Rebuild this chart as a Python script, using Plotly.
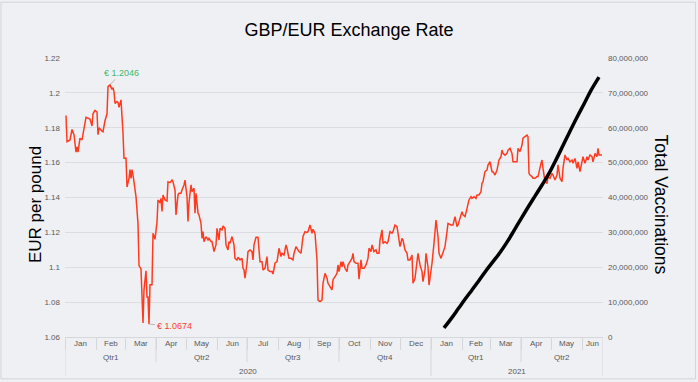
import pandas as pd
import plotly.graph_objects as go

START = "2020-01-01"
END = "2021-06-22"

# GBP/EUR daily rate (days counted from 2020-01-01)
fx_day = [
    1, 2, 5, 7, 9, 11, 12, 13, 15, 17, 21, 23, 25, 27, 28, 30,
    32, 33, 34, 37, 38, 40, 42, 43, 45, 47, 48, 49, 50, 52, 53, 54, 56, 58, 59,
    61, 62, 64, 65, 66, 67, 68, 70, 71, 73, 74, 76, 77, 78, 79, 81, 82, 83, 84, 85, 87, 88, 90,
    92, 93, 95, 96, 97, 98, 100, 102, 103, 105, 107, 108, 110, 111, 113, 114, 116, 117, 119, 120,
    122, 123, 124, 126, 127, 129, 130, 131, 133, 134, 136, 137, 138, 139, 141, 143, 144, 146, 147, 149, 151,
    152, 154, 155, 157, 158, 160, 161, 163, 164, 165, 167, 169, 170, 172, 173, 175, 177, 178, 179, 180,
    182, 183, 185, 187, 188, 189, 191, 193, 195, 197, 198, 200, 202, 203, 205, 207, 208, 210, 212,
    213, 214, 216, 217, 219, 221, 222, 224, 226, 228, 229, 231, 233, 234, 236, 237, 238, 240, 242, 243,
    245, 247, 248, 250, 252, 253, 255, 257, 258, 260, 262, 263, 265, 267, 268, 270, 272, 273,
    274, 276, 277, 278, 280, 282, 283, 285, 287, 288, 289, 291, 293, 294, 296, 297, 299, 301, 303, 304,
    306, 307, 309, 311, 312, 314, 315, 317, 318, 320, 322, 323, 325, 327, 328, 330, 332, 333,
    335, 337, 338, 340, 342, 343, 345, 347, 348, 350, 352, 353, 355, 357, 358, 360, 361, 363, 364,
    366, 367, 369, 370, 371, 373, 374, 376, 378, 380, 382, 383, 386, 388, 390, 392, 393, 395,
    397, 398, 400, 402, 404, 406, 407, 409, 411, 412, 414, 416, 417, 418, 420, 422, 423,
    425, 427, 428, 430, 432, 433, 434, 436, 437, 438, 440, 442, 443, 445, 447, 448, 450, 452, 453, 455,
    457, 458, 460, 462, 463, 464, 465, 467, 468, 470, 472, 473, 476, 477, 478, 480, 482, 483, 485,
    487, 488, 490, 492, 493, 495, 497, 498, 500, 502, 503, 505, 507, 508, 510, 512, 513, 515,
    517, 518, 520, 522, 523, 525, 527, 528, 530, 532, 533, 534, 537,
]
fx_rate = [
    1.187, 1.172, 1.173, 1.179, 1.176, 1.166, 1.169, 1.166, 1.174, 1.173, 1.186, 1.1855, 1.185, 1.181, 1.188, 1.190,
    1.189, 1.176, 1.180, 1.178, 1.1777, 1.184, 1.188, 1.2036, 1.2046, 1.202, 1.203, 1.2007, 1.194, 1.195, 1.1945, 1.1917, 1.196, 1.177, 1.1625,
    1.1625, 1.146, 1.151, 1.156, 1.151, 1.156, 1.153, 1.142, 1.1405, 1.125, 1.101, 1.099, 1.081, 1.068, 1.087, 1.098, 1.083, 1.083, 1.0674, 1.090, 1.090, 1.1195, 1.116,
    1.126, 1.1386, 1.137, 1.1395, 1.132, 1.1414, 1.1386, 1.138, 1.149, 1.1485, 1.150, 1.149, 1.1443, 1.130, 1.1414, 1.1424, 1.1424, 1.1443, 1.1472, 1.150,
    1.1405, 1.1262, 1.137, 1.1472, 1.1434, 1.1453, 1.131, 1.1424, 1.131, 1.130, 1.1252, 1.1166, 1.1204, 1.1147, 1.1175, 1.1156, 1.1166, 1.1147, 1.1147, 1.109, 1.1128,
    1.1223, 1.1156, 1.1223, 1.1214, 1.1237, 1.1223, 1.1128, 1.1099, 1.1147, 1.1137, 1.1176, 1.1128, 1.1051, 1.1042, 1.1057, 1.1042, 1.1051, 1.0994, 1.0985, 1.0937,
    1.1023, 1.109, 1.1099, 1.109, 1.1042, 1.1128, 1.1172, 1.1172, 1.1032, 1.1032, 1.0984, 1.0994, 1.1061, 1.0984, 1.0975, 1.0975, 1.0961, 1.1023, 1.1032,
    1.109, 1.1109, 1.1061, 1.108, 1.107, 1.1128, 1.1109, 1.1051, 1.1051, 1.1042, 1.108, 1.1118, 1.110, 1.109, 1.108, 1.1147, 1.1176, 1.1204, 1.120, 1.1204,
    1.1242, 1.1195, 1.1218, 1.1195, 1.1042, 1.0812, 1.0803, 1.0812, 1.0908, 1.0965, 1.0937, 1.0908, 1.0889, 1.087, 1.0927, 1.0946, 1.0965, 1.1013,
    1.0975, 1.1032, 1.1003, 1.1032, 1.0994, 1.0975, 1.1013, 1.1032, 1.1051, 1.108, 1.1032, 1.1023, 1.1023, 1.0931, 1.1042, 1.0994, 1.0994, 1.1013, 1.1051, 1.1109,
    1.109, 1.1128, 1.109, 1.110, 1.108, 1.108, 1.1156, 1.1214, 1.1137, 1.1147, 1.1137, 1.1147, 1.1204, 1.1195, 1.1204, 1.1242, 1.1233, 1.1195,
    1.1118, 1.1166, 1.1156, 1.1099, 1.108, 1.1042, 1.1042, 1.107, 1.0908, 1.0937, 1.1042, 1.108, 1.1013, 1.0975, 1.0918, 1.0984, 1.108, 1.1003, 1.0898,
    1.0975, 1.1023, 1.1137, 1.1223, 1.1271, 1.1176, 1.108, 1.1051, 1.109, 1.1118, 1.1204, 1.1252, 1.1243, 1.1243, 1.129, 1.1233, 1.1243, 1.1281,
    1.1319, 1.130, 1.129, 1.1338, 1.1386, 1.1405, 1.1395, 1.1405, 1.1395, 1.1415, 1.1415, 1.1434, 1.1482, 1.149, 1.1548, 1.1558, 1.1586,
    1.1605, 1.1548, 1.1548, 1.1529, 1.1558, 1.1586, 1.1615, 1.1634, 1.1672, 1.1653, 1.1643, 1.1653, 1.1672, 1.1682, 1.1653, 1.1605, 1.1605, 1.1605, 1.1682, 1.1663,
    1.1701, 1.174, 1.1749, 1.1758, 1.1749, 1.1539, 1.1529, 1.152, 1.151, 1.151, 1.152, 1.152, 1.1596, 1.1615, 1.1567, 1.1491, 1.148, 1.152, 1.151,
    1.1539, 1.1529, 1.150, 1.1529, 1.1587, 1.151, 1.1491, 1.1567, 1.1644, 1.1615, 1.1624, 1.1605, 1.1615, 1.1596, 1.1624, 1.1567, 1.1605, 1.1548,
    1.1596, 1.1634, 1.1596, 1.1634, 1.1615, 1.1644, 1.1634, 1.1605, 1.1653, 1.1634, 1.1682, 1.1644, 1.1644,
]

# UK cumulative vaccinations (days counted from 2020-01-01)
vax_day = [379, 386, 393, 400, 407, 414, 421, 428, 435, 442, 449, 456,
           463, 470, 477, 484, 491, 498, 505, 512, 519, 526, 534]
vax_total = [2.6e6, 5.2e6, 8.0e6, 10.8e6, 13.5e6, 16.2e6, 19.0e6, 21.6e6, 24.2e6, 27.2e6,
             30.5e6, 33.9e6, 37.2e6, 40.4e6, 43.6e6, 46.9e6, 50.8e6, 54.9e6, 59.0e6,
             63.0e6, 66.8e6, 70.7e6, 74.5e6]

left_tickvals = [1.06, 1.08, 1.10, 1.12, 1.14, 1.16, 1.18, 1.20, 1.22]
left_ticktext = ["1.06", "1.08", "1.1", "1.12", "1.14", "1.16", "1.18", "1.2", "1.22"]

assert len(fx_day) == len(fx_rate)
assert len(vax_day) == len(vax_total)

t0 = pd.Timestamp(START)
fx_dates = t0 + pd.to_timedelta(fx_day, unit="D")
vax_dates = t0 + pd.to_timedelta(vax_day, unit="D")

BG = "#eff0f4"
RED = "#ff3b1f"
GREEN = "#3cb96a"
LABEL = "#595959"
SEP = "#d6d7db"
FONT = "Liberation Sans, Arial, sans-serif"

fig = go.Figure()
fig.add_trace(go.Scatter(x=fx_dates, y=fx_rate, mode="lines",
                         line=dict(color=RED, width=1.5), name="GBP/EUR"))
fig.add_trace(go.Scatter(x=vax_dates, y=vax_total, mode="lines", yaxis="y2",
                         line=dict(color="black", width=3.5, shape="spline", smoothing=1.0),
                         name="Total Vaccinations"))

annotations = []
shapes = []

# peak / trough annotations
imax = max(range(len(fx_rate)), key=lambda i: fx_rate[i])
imin = min(range(len(fx_rate)), key=lambda i: fx_rate[i])
annotations.append(dict(x=fx_dates[imax], y=fx_rate[imax], xref="x", yref="y",
                        text=f"€ {fx_rate[imax]:.4f}", showarrow=True, arrowhead=0,
                        arrowcolor="#a8a8a8", arrowwidth=0.8, ax=11, ay=-12,
                        font=dict(family=FONT, size=9, color=GREEN)))
annotations.append(dict(x=fx_dates[imin], y=fx_rate[imin], xref="x", yref="y",
                        text=f"€ {fx_rate[imin]:.4f}", showarrow=True, arrowhead=0,
                        arrowcolor="#a8a8a8", arrowwidth=0.8, ax=25, ay=2,
                        font=dict(family=FONT, size=9, color=RED)))

# hierarchical date axis labels: months / quarters / years
end_ts = pd.Timestamp(END)
month_starts = list(pd.date_range(START, END, freq="MS"))
bounds = month_starts + [end_ts]
for a, b in zip(bounds[:-1], bounds[1:]):
    annotations.append(dict(x=a + (b - a) / 2, y=-0.025, xref="x", yref="paper",
                            text=a.strftime("%b"), showarrow=False, yanchor="middle",
                            font=dict(family=FONT, size=8, color=LABEL)))

q_starts = [m for m in month_starts if m.month in (1, 4, 7, 10)]
q_bounds = q_starts + [end_ts]
for a, b in zip(q_bounds[:-1], q_bounds[1:]):
    annotations.append(dict(x=a + (b - a) / 2, y=-0.075, xref="x", yref="paper",
                            text=f"Qtr{(a.month - 1) // 3 + 1}", showarrow=False, yanchor="middle",
                            font=dict(family=FONT, size=8, color=LABEL)))
    if a.month != 1:
        shapes.append(dict(type="line", xref="x", yref="paper", x0=a, x1=a, y0=0, y1=-0.09,
                           line=dict(color=SEP, width=1)))

y_starts = [m for m in month_starts if m.month == 1]
y_bounds = y_starts + [end_ts]
for a, b in zip(y_bounds[:-1], y_bounds[1:]):
    annotations.append(dict(x=a + (b - a) / 2, y=-0.122, xref="x", yref="paper",
                            text=str(a.year), showarrow=False, yanchor="middle",
                            font=dict(family=FONT, size=8, color=LABEL)))
for a in y_bounds:
    shapes.append(dict(type="line", xref="x", yref="paper", x0=a, x1=a, y0=0, y1=-0.14,
                       line=dict(color=SEP, width=1)))

# axis titles
annotations.append(dict(x=-0.076, y=0.475, xref="paper", yref="paper", text="EUR per pound",
                        textangle=-90, showarrow=False,
                        font=dict(family=FONT, size=17, color="black")))
annotations.append(dict(x=1.13, y=0.475, xref="paper", yref="paper", text="Total Vaccinations",
                        textangle=90, showarrow=False,
                        font=dict(family=FONT, size=17.5, color="black")))

# outer frame
shapes.append(dict(type="rect", xref="paper", yref="paper", x0=-0.119, x1=1.172,
                   y0=-0.15, y1=1.2, line=dict(color="#d4d4d4", width=1), layer="below"))

fig.update_layout(
    width=698, height=382,
    margin=dict(l=65, r=95, t=58, b=45),
    paper_bgcolor=BG, plot_bgcolor=BG,
    showlegend=False,
    title=dict(text="GBP/EUR Exchange Rate", x=0.5, xref="container", xanchor="center",
               y=0.921, yref="container", yanchor="middle",
               font=dict(family=FONT, size=18, color="black")),
    xaxis=dict(type="date", range=[START, END], showgrid=False, showticklabels=False,
               ticks="outside", tick0=START, dtick="M1", ticklen=12, tickcolor=SEP, tickwidth=1,
               showline=True, linecolor=SEP, linewidth=1, zeroline=False, automargin=False),
    yaxis=dict(range=[1.06, 1.22], tickvals=left_tickvals, ticktext=left_ticktext,
               showgrid=True, gridcolor="#dcdde2", gridwidth=1, zeroline=False,
               ticks="", ticklabelstandoff=4, automargin=False,
               tickfont=dict(family=FONT, size=8, color=LABEL)),
    yaxis2=dict(range=[0, 80e6], dtick=10e6, tickformat=",", overlaying="y", side="right",
                showgrid=False, zeroline=False, ticks="", ticklabelstandoff=4, automargin=False,
                tickfont=dict(family=FONT, size=8, color=LABEL)),
    annotations=annotations,
    shapes=shapes,
)

fig.write_html("out.html", config={"displayModeBar": False},
               post_script="document.body.style.margin='0';document.body.style.overflow='hidden';")
